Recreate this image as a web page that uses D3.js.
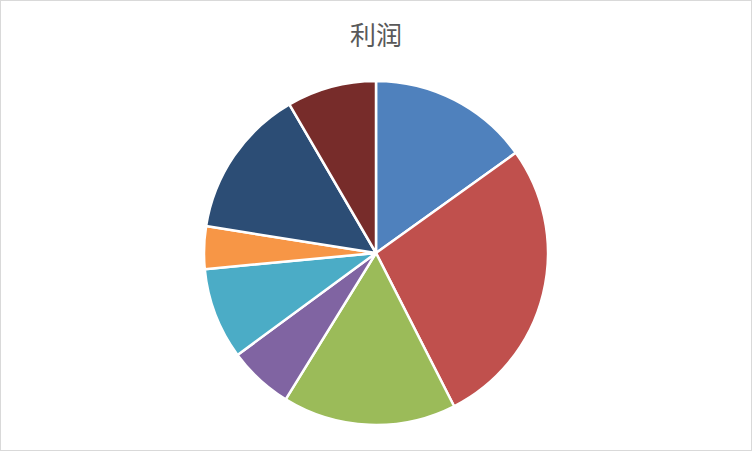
<!DOCTYPE html>
<html><head><meta charset="utf-8">
<script src="https://cdn.jsdelivr.net/npm/d3@7"></script>
<style>body{margin:0;background:#fff}svg{display:block}</style>
</head><body>
<script>
const title = "利润";
const categories = ["A","B","C","D","E","F","G","H"];
const values = [15.1, 27.4, 16.3, 6.1, 8.6, 4.0, 14.1, 8.4];
const colors = ["#4F81BD","#C0504D","#9BBB59","#8064A2","#4BACC6","#F79646","#2C4D75","#772C2A"];

const W = 752, H = 451;
const svg = d3.select("body").append("svg").attr("width", W).attr("height", H);
svg.append("rect").attr("x",0.5).attr("y",0.5).attr("width",W-1).attr("height",H-1)
  .attr("fill","#fff").attr("stroke","#D9D9D9");
svg.append("text").attr("x",376).attr("y",45).attr("text-anchor","middle")
  .attr("font-family","'Noto Sans CJK SC', sans-serif").attr("font-size",26)
  .attr("fill","#595959").text(title);

const data = categories.map((c,i)=>({c, v: values[i]}));
const pie = d3.pie().value(d=>d.v).sort(null);
const arc = d3.arc().innerRadius(0).outerRadius(172);
const color = d3.scaleOrdinal().domain(categories).range(colors);
const g = svg.append("g").attr("transform","translate(376,253)");
g.selectAll("path").data(pie(data)).join("path")
  .attr("d", arc).attr("fill", d=>color(d.data.c))
  .attr("stroke","#fff").attr("stroke-width",2.5).attr("stroke-linejoin","round");
</script>
</body></html>
